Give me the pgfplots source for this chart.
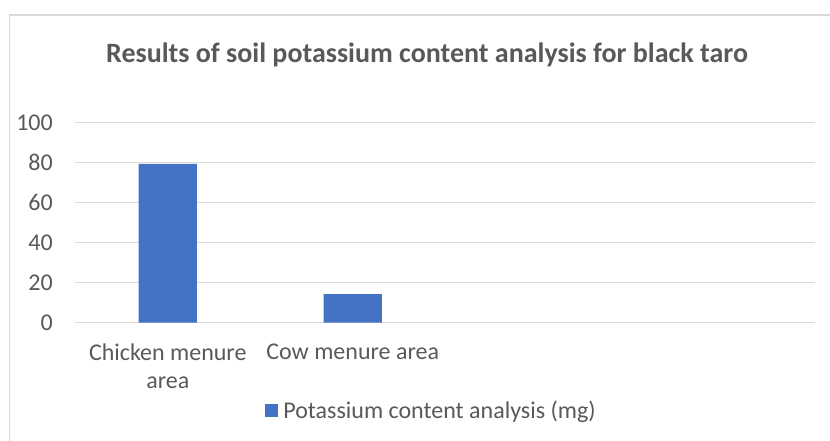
\documentclass[border=0pt]{standalone}
\usepackage{pgfplots}
\pgfplotsset{compat=1.18}
\usepackage{fontspec}
\setmainfont{Carlito}
\definecolor{barblue}{HTML}{4472C4}
\definecolor{txtgray}{HTML}{595959}
\definecolor{gridgray}{HTML}{D9D9D9}
\begin{document}
\begin{tikzpicture}
\begin{axis}[
  scale only axis, width=739.7pt, height=200.4pt,
  clip=false,
  xmin=-0.5, xmax=3.5, ymin=0, ymax=100,
  axis line style={draw=none},
  ytick={0,20,...,100},
  xtick={0,1},
  xticklabels={{Chicken menure\\area},{Cow menure area}},
  xticklabel style={align=center, text=txtgray, font=\fontsize{24}{28}\selectfont},
  yticklabel style={text=txtgray, font=\fontsize{24}{29}\selectfont},
  /pgf/number format/assume math mode=true,
  major tick length=0pt,
  ymajorgrids, grid style={gridgray, line width=1.3pt},
  yticklabel style={xshift=-19pt},
  xticklabel style={yshift=-18pt},
  ybar, bar width=58.3pt,
  legend style={at={(0.4836,-0.44)}, anchor=center, draw=none, fill=none,
    font=\fontsize{24}{29}\selectfont, text=txtgray,
    nodes={inner xsep=5pt}},
  legend image code/.code={\fill[barblue] (0pt,-6.5pt) rectangle (13pt,6.5pt);},
]
\addplot[fill=barblue, draw=none] coordinates {(0,79.3) (1,14.3)};
\addlegendentry{Potassium content analysis (mg)}
\path[draw=none, use as bounding box] (rel axis cs:-0.1018,-0.5903) rectangle (rel axis cs:1.0203,1.6103);
\draw[gridgray,line width=1.3pt] (rel axis cs:-0.08896,-0.5903) -- (rel axis cs:-0.08896,1.5354) -- (rel axis cs:1.0203,1.5354);
\node[anchor=base,text=txtgray,font=\fontsize{28}{34}\selectfont\bfseries] at (rel axis cs:0.4755,1.2974) {Results of soil potassium content analysis for black taro};
\end{axis}
\end{tikzpicture}
\end{document}
